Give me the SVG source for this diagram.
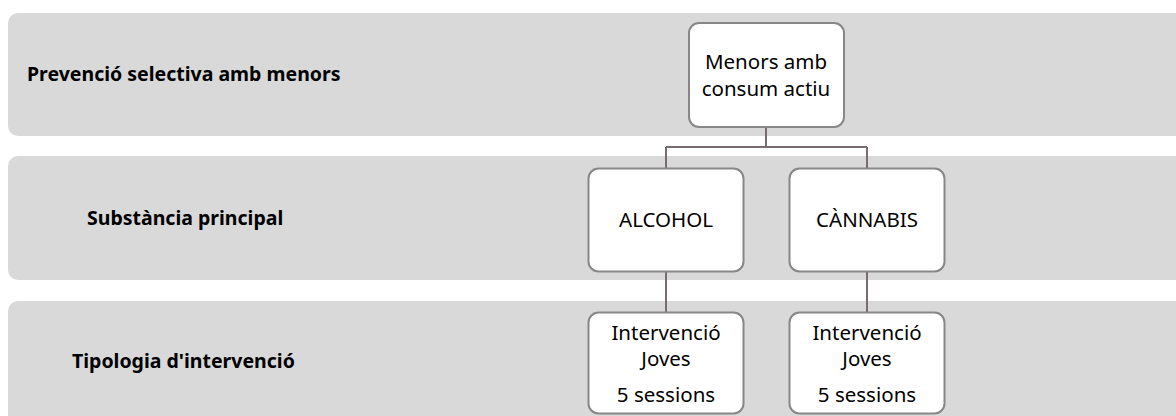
<svg xmlns="http://www.w3.org/2000/svg" width="1176" height="416" viewBox="0 0 1176 416">
<style>
.band{fill:#d9d9d9;}
.box{fill:#ffffff;stroke:#878787;stroke-width:2;}
.lbl{font-family:"Noto Sans","Open Sans",sans-serif;font-weight:bold;font-size:19.5px;fill:#000;}
.txt{font-family:"Noto Sans","Open Sans",sans-serif;font-size:20.5px;fill:#000;text-anchor:middle;}
.conn{fill:none;stroke:#776c6e;stroke-width:2;}
</style>
<rect width="1176" height="416" fill="#ffffff"/>
<g id="bands">
<rect class="band" x="8" y="13" width="1180" height="123" rx="10"/>
<rect class="band" x="8" y="156" width="1180" height="124" rx="10"/>
<rect class="band" x="8" y="301" width="1180" height="130" rx="10"/>
<text class="lbl" x="27" y="81">Prevenció selectiva amb menors</text>
<text class="lbl" x="87" y="225">Substància principal</text>
<text class="lbl" x="72" y="368">Tipologia d'intervenció</text>
</g>
<g id="connectors">
<path class="conn" d="M766,127 V147 M666,147 H867 M666,147 V168 M867,147 V168"/>
<path class="conn" d="M666,272 V312"/>
<path class="conn" d="M867,272 V312"/>
</g>
<g id="node-menors">
<rect class="box" x="689" y="23" width="155" height="104" rx="10"/>
<text class="txt" x="766" y="69">Menors amb</text>
<text class="txt" x="766" y="96">consum actiu</text>
</g>
<g id="node-alcohol">
<rect class="box" x="588.5" y="168.5" width="155" height="103" rx="10"/>
<text class="txt" x="666" y="227">ALCOHOL</text>
</g>
<g id="node-cannabis">
<rect class="box" x="789.5" y="168.5" width="155" height="103" rx="10"/>
<text class="txt" x="867" y="227">CÀNNABIS</text>
</g>
<g id="node-int1">
<rect class="box" x="588.5" y="312.5" width="155" height="101" rx="10"/>
<text class="txt" x="666" y="340">Intervenció</text>
<text class="txt" x="666" y="366">Joves</text>
<text class="txt" x="666" y="402">5 sessions</text>
</g>
<g id="node-int2">
<rect class="box" x="789.5" y="312.5" width="155" height="101" rx="10"/>
<text class="txt" x="867" y="340">Intervenció</text>
<text class="txt" x="867" y="366">Joves</text>
<text class="txt" x="867" y="402">5 sessions</text>
</g>
</svg>
